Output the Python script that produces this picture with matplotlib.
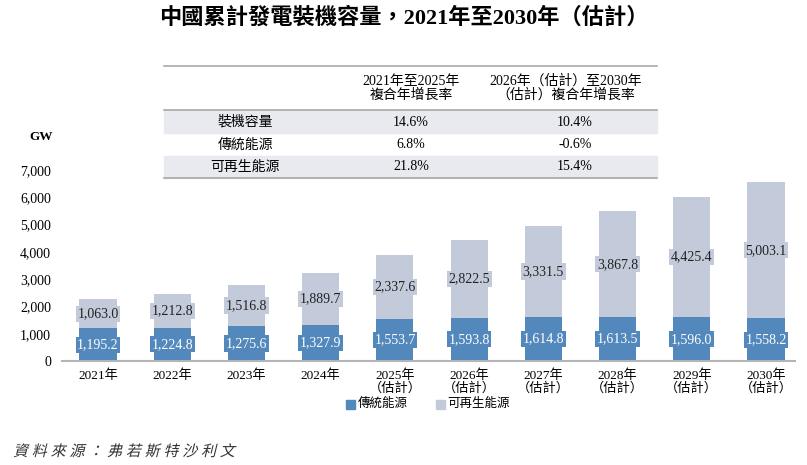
import matplotlib.pyplot as plt
from matplotlib.patches import Rectangle, PathPatch
from matplotlib.lines import Line2D
from matplotlib.textpath import TextPath
from matplotlib.font_manager import FontProperties
from matplotlib.transforms import Affine2D

FONT = ['Liberation Serif', 'Noto Sans CJK TC']
plt.rcParams['font.family'] = FONT

years = ['2021年', '2022年', '2023年', '2024年', '2025年\n（估計）', '2026年\n（估計）',
         '2027年\n（估計）', '2028年\n（估計）', '2029年\n（估計）', '2030年\n（估計）']
traditional = [1195.2, 1224.8, 1275.6, 1327.9, 1553.7, 1593.8, 1614.8, 1613.5, 1596.0, 1558.2]
renewable = [1063.0, 1212.8, 1516.8, 1889.7, 2337.6, 2822.5, 3331.5, 3867.8, 4425.4, 5003.1]
y_ticks = [0, 1000, 2000, 3000, 4000, 5000, 6000, 7000]

table_head = ['2021年至2025年\n複合年增長率', '2026年（估計）至2030年\n（估計）複合年增長率']
table_rows = ['裝機容量', '傳統能源', '可再生能源']
cagr_1 = ['14.6%', '6.8%', '21.8%']
cagr_2 = ['10.4%', '-0.6%', '15.4%']
source = '資料來源：弗若斯特沙利文'

BLUE = '#5288bc'
GREY = '#c3cad9'
W, H = 807, 465

fig = plt.figure(figsize=(W / 100, H / 100), dpi=100)

def fx(px):
    return px / W

def fy(py):
    return 1 - py / H

ax = fig.add_axes([fx(62), fy(361), fx(795) - fx(62), fy(170) - fy(361)])
x = list(range(len(years)))
ax.bar(x, traditional, width=0.5, color=BLUE, zorder=2)
ax.bar(x, renewable, width=0.5, bottom=traditional, color=GREY, zorder=2)

for i in x:
    ax.text(i, traditional[i] / 2, f'{traditional[i]:,.1f}', ha='center', va='center',
            color='white', fontsize=10,
            bbox=dict(boxstyle='square,pad=0.12', fc=BLUE, ec='none'))
    ax.text(i, traditional[i] + renewable[i] / 2, f'{renewable[i]:,.1f}', ha='center',
            va='center', color='#222222', fontsize=10,
            bbox=dict(boxstyle='square,pad=0.12', fc=GREY, ec='none'))

ax.set_xlim(-0.485, 9.39)
ax.set_ylim(0, 7000)
ax.set_yticks(y_ticks)
ax.set_yticklabels([f'{v:,}' for v in y_ticks], fontsize=10)
ax.set_xticks(x)
ax.set_xticklabels(years, fontsize=9.5, linespacing=1.05)
ax.tick_params(axis='both', length=0)
ax.tick_params(axis='y', pad=8)
ax.tick_params(axis='x', pad=6)
for s in ['top', 'right', 'left']:
    ax.spines[s].set_visible(False)
ax.spines['bottom'].set_color('#b5b5b5')
ax.spines['bottom'].set_linewidth(1.5)

fig.text(fx(41), fy(137), 'GW', ha='center', va='center', fontsize=9.5, weight='bold')

# legend
fig.patches.append(Rectangle((fx(346), fy(409)), fx(9), fy(400) - fy(409), color=BLUE,
                             transform=fig.transFigure))
fig.text(fx(358), fy(404), '傳統能源', ha='left', va='center', fontsize=9)
fig.patches.append(Rectangle((fx(436), fy(409)), fx(9), fy(400) - fy(409), color=GREY,
                             transform=fig.transFigure))
fig.text(fx(447), fy(404), '可再生能源', ha='left', va='center', fontsize=9)

# title
fig.text(0.5, fy(18), '中國累計發電裝機容量，2021年至2030年（估計）', ha='center', va='center',
         fontsize=16, weight='bold')

# table
tl, tr = 164, 657
row_y = [122, 145, 167]
for k, yy in enumerate(row_y):
    if k != 1:
        fig.patches.append(Rectangle((fx(tl), fy(yy + 11.5)), fx(tr) - fx(tl), fy(yy - 11.5) - fy(yy + 11.5),
                                     color='#e8eaef', transform=fig.transFigure, zorder=0))
for yy in [66, 110, 178]:
    fig.lines.append(Line2D([fx(tl), fx(tr)], [fy(yy), fy(yy)], color='#a9a9a9', lw=1.2,
                            transform=fig.transFigure))
fig.text(fx(411), fy(88), table_head[0], ha='center', va='center', fontsize=10, linespacing=1.05)
fig.text(fx(566), fy(88), table_head[1], ha='center', va='center', fontsize=10, linespacing=1.05)
for k, yy in enumerate(row_y):
    fig.text(fx(245), fy(yy), table_rows[k], ha='center', va='center', fontsize=10)
    fig.text(fx(411), fy(yy), cagr_1[k], ha='center', va='center', fontsize=10)
    fig.text(fx(575), fy(yy), cagr_2[k], ha='center', va='center', fontsize=10)

# source note, slanted and letter-spaced
fp = FontProperties(family='Noto Sans CJK TC')
for k, ch in enumerate(source):
    tp = TextPath((0, 0), ch, size=15, prop=fp)
    tr_ = Affine2D().skew_deg(14, 0).translate(13 + k * 18.8, H - 456)
    fig.patches.append(PathPatch(tp, transform=tr_, fc='#333333', ec='none'))

fig.savefig('out.png', dpi=100)
